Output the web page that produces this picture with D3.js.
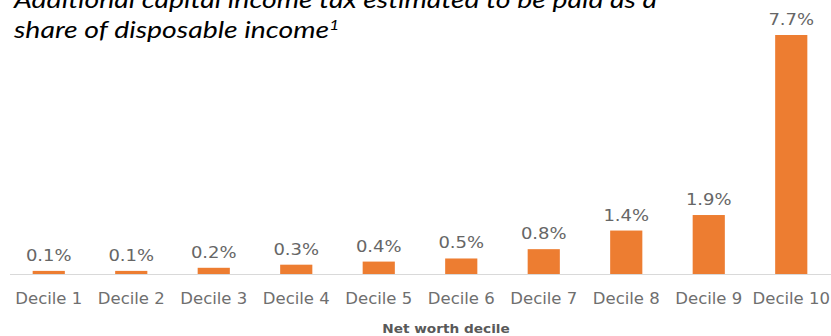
<!DOCTYPE html>
<html>
<head>
<meta charset="utf-8">
<script src="https://cdn.jsdelivr.net/npm/d3@7"></script>
<style>
  html, body { margin: 0; padding: 0; background: #fff; }
  svg { display: block; }
</style>
</head>
<body>
<svg id="chart" width="831" height="336"></svg>
<script>
// Net worth deciles and the additional tax as a share of disposable income (%)
const deciles = ["Decile 1", "Decile 2", "Decile 3", "Decile 4", "Decile 5",
                 "Decile 6", "Decile 7", "Decile 8", "Decile 9", "Decile 10"];
const taxShare = [0.1, 0.1, 0.2, 0.3, 0.4, 0.5, 0.8, 1.4, 1.9, 7.7];
const valueLabels = ["0.1%", "0.1%", "0.2%", "0.3%", "0.4%", "0.5%", "0.8%", "1.4%", "1.9%", "7.7%"];
const titleLines = ["Additional capital income tax estimated to be paid as a",
                    "share of disposable income"];
const axisTitle = "Net worth decile";

const svg = d3.select("#chart");
const baseY = 274;

const x = d3.scaleBand()
  .domain(deciles)
  .range([7.5, 832.5])
  .paddingInner(0.61)
  .paddingOuter(0.305);

const y = d3.scaleLinear()
  .domain([0, d3.max(taxShare)])
  .range([baseY, 35]);

const data = deciles.map((d, i) => ({ name: d, value: taxShare[i], label: valueLabels[i] }));

// Bars
svg.append("g")
  .selectAll("rect")
  .data(data)
  .join("rect")
  .attr("x", d => x(d.name))
  .attr("y", d => y(d.value))
  .attr("width", x.bandwidth())
  .attr("height", d => baseY - y(d.value))
  .attr("fill", "#ED7D31");

// Category axis
const axis = svg.append("g")
  .attr("transform", `translate(0,${baseY + 0.5})`)
  .call(d3.axisBottom(x).tickSize(0).tickSizeOuter(0).tickPadding(18.5));
axis.select(".domain")
  .attr("stroke", "#d9d9d9")
  .attr("stroke-width", 1)
  .attr("d", "M10,0H831");
axis.selectAll("text")
  .attr("fill", "#6f6f6f")
  .attr("font-family", "DejaVu Sans")
  .attr("font-size", "15px")
  .attr("transform", "scale(1.1,1)");

// Value labels above bars (wide-set type)
svg.append("g")
  .selectAll("text")
  .data(data)
  .join("text")
  .attr("transform", d => `translate(${x(d.name) + x.bandwidth() / 2},${y(d.value) - 10}) scale(1.2,1)`)
  .attr("text-anchor", "middle")
  .attr("fill", "#666")
  .attr("font-family", "DejaVu Sans")
  .attr("font-size", "15px")
  .text(d => d.label);

// Axis title
svg.append("text")
  .attr("transform", "translate(446,333) scale(1.14,1)")
  .attr("text-anchor", "middle")
  .attr("fill", "#595959")
  .attr("font-family", "DejaVu Sans")
  .attr("font-weight", "bold")
  .attr("font-size", "12px")
  .text(axisTitle);

// Chart title (two italic lines, second with a footnote marker)
const title = svg.append("g")
  .attr("transform", "translate(14,0) scale(1.235,1)")
  .attr("font-family", "Lato")
  .attr("font-style", "italic")
  .attr("font-size", "23px")
  .attr("fill", "#000");
title.append("text").attr("x", 0).attr("y", 8).text(titleLines[0]);
const t2 = title.append("text").attr("x", 0).attr("y", 38).text(titleLines[1]);
t2.append("tspan")
  .attr("dy", -8)
  .attr("font-size", "14px")
  .text("1");
</script>
</body>
</html>
